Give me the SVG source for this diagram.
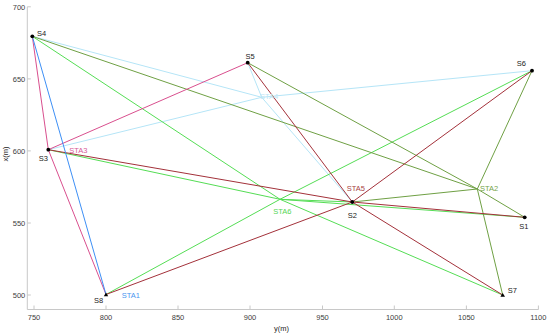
<svg xmlns="http://www.w3.org/2000/svg" width="550" height="336" viewBox="0 0 550 336">
<style>
text{font-family:"Liberation Sans",Arial,sans-serif;font-size:7.5px;}
.tk{fill:#404040;}
.ax{stroke:#c8c8c8;stroke-width:1;fill:none;}
.lbl{fill:#222;}
.pk{stroke:#d94f8e;}
.bl{stroke:#3d8ff5;}
.dr{stroke:#a3313a;}
.ol{stroke:#6fa044;}
.gr{stroke:#55dd55;}
.lb{stroke:#b5e5f7;}
#connectors line{stroke-width:1;fill:none;}
</style>
<rect width="550" height="336" fill="#ffffff"/>
<g id="axes">
<path class="ax" d="M27.3,6.8 V309.5 H538.5"/>
<path class="ax" d="M27.3,6.8 h3.5 M27.3,78.9 h3.5 M27.3,150.9 h3.5 M27.3,223 h3.5 M27.3,295 h3.5"/>
<path class="ax" d="M34,309.5 v-4 M106,309.5 v-4 M178,309.5 v-4 M250,309.5 v-4 M322.5,309.5 v-4 M394.3,309.5 v-4 M466.4,309.5 v-4 M538.4,309.5 v-4"/>
<g class="tk" text-anchor="end">
<text x="25.3" y="9.5">700</text>
<text x="25.3" y="81.6">650</text>
<text x="25.3" y="153.6">600</text>
<text x="25.3" y="225.7">550</text>
<text x="25.3" y="297.7">500</text>
</g>
<g class="tk" text-anchor="middle">
<text x="34" y="319.5">750</text>
<text x="106" y="319.5">800</text>
<text x="178" y="319.5">850</text>
<text x="250" y="319.5">900</text>
<text x="322.5" y="319.5">950</text>
<text x="394.3" y="319.5">1000</text>
<text x="466.4" y="319.5">1050</text>
<text x="538.4" y="319.5">1100</text>
</g>
<text class="lbl" x="281.5" y="331" text-anchor="middle">y(m)</text>
<text class="lbl" transform="translate(8.3,154) rotate(-90)" text-anchor="middle">x(m)</text>
</g>
<g id="connectors">
<!-- STA4 light blue -->
<line class="lb" x1="261.7" y1="97.3" x2="32.3" y2="36.3"/>
<line class="lb" x1="261.7" y1="97.3" x2="48.3" y2="149.7"/>
<line class="lb" x1="261.7" y1="97.3" x2="247.7" y2="62.7"/>
<line class="lb" x1="261.7" y1="97.3" x2="532" y2="70.7"/>
<line class="lb" x1="261.7" y1="97.3" x2="352.3" y2="202"/>
<!-- STA6 green -->
<line class="gr" x1="280" y1="199.3" x2="32.3" y2="36.3"/>
<line class="gr" x1="280" y1="199.3" x2="48.3" y2="149.7"/>
<line class="gr" x1="280" y1="199.3" x2="106" y2="294.5"/>
<line class="gr" x1="280" y1="199.3" x2="532" y2="70.7"/>
<line class="gr" x1="280" y1="199.3" x2="352.3" y2="202"/>
<line class="gr" x1="280" y1="199.3" x2="524.7" y2="217.3"/>
<line class="gr" x1="280" y1="199.3" x2="502.7" y2="295"/>
<!-- STA2 olive -->
<line class="ol" x1="477.3" y1="189" x2="32.3" y2="36.3"/>
<line class="ol" x1="477.3" y1="189" x2="247.7" y2="62.7"/>
<line class="ol" x1="477.3" y1="189" x2="532" y2="70.7"/>
<line class="ol" x1="477.3" y1="189" x2="352.3" y2="202"/>
<line class="ol" x1="477.3" y1="189" x2="524.7" y2="217.3"/>
<line class="ol" x1="477.3" y1="189" x2="502.7" y2="295"/>
<!-- STA5 dark red -->
<line class="dr" x1="352.3" y1="202" x2="247.7" y2="62.7"/>
<line class="dr" x1="352.3" y1="202" x2="48.3" y2="149.7"/>
<line class="dr" x1="352.3" y1="202" x2="106" y2="294.5"/>
<line class="dr" x1="352.3" y1="202" x2="532" y2="70.7"/>
<line class="dr" x1="352.3" y1="202" x2="502.7" y2="295"/>
<line class="dr" x1="352.3" y1="202" x2="524.7" y2="217.3"/>
<!-- STA3 pink -->
<line class="pk" x1="48.3" y1="149.7" x2="32.3" y2="36.3"/>
<line class="pk" x1="48.3" y1="149.7" x2="247.7" y2="62.7"/>
<line class="pk" x1="48.3" y1="149.7" x2="106" y2="294.5"/>
<!-- STA1 blue -->
<line class="bl" x1="106" y1="294.5" x2="32.3" y2="36.3"/>
</g>
<g id="S1"><circle cx="524.7" cy="217.3" r="1.9" fill="#000"/><text class="lbl" x="519.3" y="228.7">S1</text></g>
<g id="S2"><circle cx="352.3" cy="202" r="1.9" fill="#000"/><text class="lbl" x="347.7" y="217.7">S2</text></g>
<g id="S3"><circle cx="48.3" cy="149.7" r="1.9" fill="#000"/><text class="lbl" x="38.8" y="161">S3</text></g>
<g id="S4"><circle cx="32.3" cy="36.3" r="1.9" fill="#000"/><text class="lbl" x="37" y="36">S4</text></g>
<g id="S5"><circle cx="247.7" cy="62.7" r="1.9" fill="#000"/><text class="lbl" x="245.5" y="58.5">S5</text></g>
<g id="S6"><circle cx="532" cy="70.7" r="1.9" fill="#000"/><text class="lbl" x="516.7" y="66">S6</text></g>
<g id="S7"><path d="M502.7,293 L505,296.8 L500.4,296.8 Z" fill="#000"/><text class="lbl" x="507.7" y="292.7">S7</text></g>
<g id="S8"><path d="M106,292.6 L108.2,296.3 L103.8,296.3 Z" fill="#000"/><text class="lbl" x="94" y="302.7">S8</text></g>
<g id="STA1"><text x="121.7" y="297.7" fill="#4a96ef">STA1</text></g>
<g id="STA2"><text x="480" y="191" fill="#74a44a">STA2</text></g>
<g id="STA3"><text x="69.3" y="152.7" fill="#d65a98">STA3</text></g>
<g id="STA4"><text x="260" y="98.7" fill="#c0e6f5">STA4</text></g>
<g id="STA5"><text x="346.7" y="191" fill="#a84444">STA5</text></g>
<g id="STA6"><text x="273.3" y="213.7" fill="#55d655">STA6</text></g>
</svg>
